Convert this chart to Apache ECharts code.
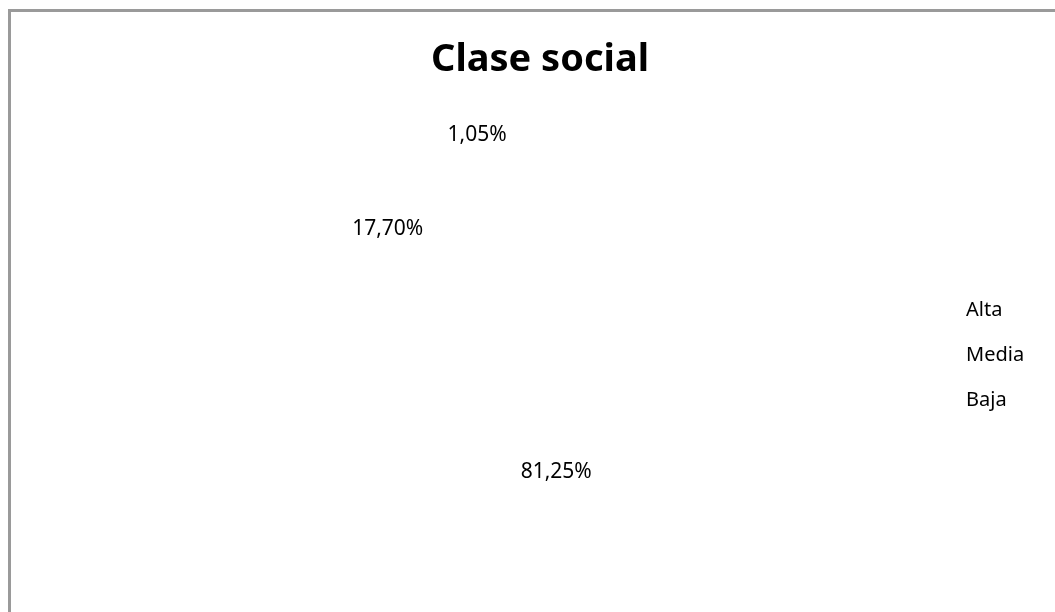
<!DOCTYPE html>
<html>
<head>
<meta charset="utf-8">
<script src="https://cdn.jsdelivr.net/npm/echarts@6/dist/echarts.min.js"></script>
<style>
    html, body { margin: 0; padding: 0; background: #fff; overflow: hidden; }
    #chart { width: 1055px; height: 612px; }
    /* marco del gráfico (solo se ven los bordes de arriba y de la izquierda) */
    .frame {
        position: absolute; left: 8px; top: 9px; right: -20px; bottom: -20px;
        border-left: 3px solid #9a9a9a; border-top: 3px solid #9a9a9a;
        pointer-events: none;
    }
</style>
</head>
<body>
<div id="chart"></div>
<div class="frame"></div>
<script>
    // datos
    const categories = ['Alta', 'Media', 'Baja']
    const values = [1.05, 17.70, 81.25]

    const fontFamily = '"Noto Sans", sans-serif'

    let myChart = echarts.init(document.getElementById('chart'))
    myChart.setOption({
        animation: false,
        title: {
            text: 'Clase social',
            left: 535,
            top: 36,
            textAlign: 'center',
            textStyle: {
                fontFamily: fontFamily,
                fontSize: 38,
                fontWeight: 'bold',
                color: '#000'
            }
        },
        legend: {
            orient: 'vertical',
            left: 956,
            top: 293,
            icon: 'none',
            itemWidth: 0,
            itemHeight: 0,
            itemGap: 21,
            selectedMode: false,
            data: categories,
            textStyle: {
                fontFamily: fontFamily,
                fontSize: 20,
                lineHeight: 24,
                color: '#000'
            }
        },
        series: [{
            type: 'pie',
            center: [474, 349],
            radius: 290,
            startAngle: 90,
            clockwise: false,      // sentido antihorario como el original
            silent: true,
            itemStyle: {
                color: 'rgba(0,0,0,0)',   // los sectores no se ven en el original
                borderWidth: 0
            },
            label: {
                show: true,
                position: 'inside',
                color: '#000',
                fontFamily: fontFamily,
                fontSize: 21,
                formatter: p => p.value.toFixed(2).replace('.', ',') + '%'
            },
            labelLine: { show: false },
            // el sector pequeño tiene la etiqueta más afuera
            labelLayout: p => values[p.dataIndex] < 5 ? { dy: -66, dx: 8 } : {},
            data: categories.map((c, i) => ({ name: c, value: values[i] }))
        }]
    })
</script>
</body>
</html>
